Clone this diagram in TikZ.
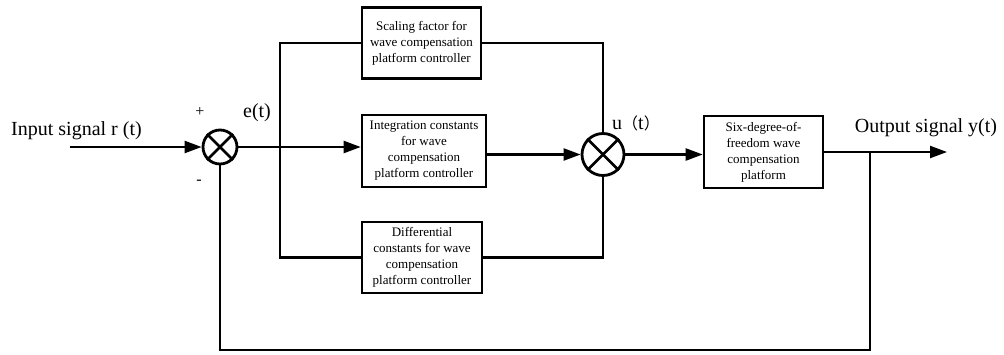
\documentclass[tikz,border=0pt]{standalone}
\usepackage{fontspec}
\setmainfont{Liberation Serif}
\newfontfamily\cjk{Noto Sans CJK SC}
\usetikzlibrary{arrows.meta,calc}
\begin{document}
\begin{tikzpicture}[x=1pt,y=-1pt,
  blk/.style={draw,line width=2.6pt,rectangle,inner sep=0pt,align=center,
    font=\fontsize{13}{16}\selectfont},
  sumnode/.style={draw,circle,line width=2.8pt,inner sep=0pt},
  wire/.style={line width=2.3pt},
  arr/.style={wire,-{Triangle[length=17pt,width=12pt]}},
  lbl/.style={font=\fontsize{20}{24}\selectfont,inner sep=0pt},
  sml/.style={font=\fontsize{16}{18}\selectfont,inner sep=0pt}]
\useasboundingbox (0,0) rectangle (1004,354);
% nodes
\coordinate (in) at (70,147);
\node[sumnode,minimum size=34pt] (s1) at (220,147) {};
\coordinate (b) at (280,147);
\node[blk,minimum width=119pt,minimum height=71pt] (top) at (421.5,43) {Scaling factor for\\wave compensation\\platform controller};
\node[blk,minimum width=124pt,minimum height=72pt] (mid) at (424,151) {Integration constants\\for wave\\compensation\\platform controller};
\node[blk,minimum width=120pt,minimum height=71pt] (bot) at (422,257.5) {Differential\\constants for wave\\compensation\\platform controller};
\node[sumnode,minimum size=42pt] (s2) at (603,154.5) {};
\node[blk,minimum width=119pt,minimum height=72pt] (plant) at (763.5,152) {Six-degree-of-\\freedom wave\\compensation\\platform};
\coordinate (out) at (947,152);
\coordinate (tap) at (870,152);
\coordinate (fb) at (870,350);
% crosses
\foreach \s in {s1,s2}{
  \draw[line width=2.6pt] (\s.45) -- (\s.225);
  \draw[line width=2.6pt] (\s.135) -- (\s.315);
}
% connectors
\draw[arr] (in) -- (s1.west);
\draw[wire] (s1.east) -- (b);
\draw[arr] (b) -- (mid.west |- b);
\draw[wire] (b) |- (top.west);
\draw[wire] (b) |- (bot.west);
\draw[wire] (top.east) -| (s2.north);
\draw[wire] (bot.east) -| (s2.south);
\draw[arr] (mid.east |- s2) -- (s2.west);
\draw[arr] (s2.east) -- (plant.west |- s2);
\draw[arr] (plant.east) -- (out);
\draw[wire] (tap) -- (fb) -| (s1.south);
% labels
\node[lbl] at (76.5,131) {Input signal r (t)};
\node[lbl] at (926,128) {Output signal y(t)};
\node[sml] at (200,112) {+};
\node[sml] at (199,182) {-};
\node[lbl] at (257,113) {e(t)};
\node[lbl,anchor=west] at (612,123) {u{\cjk\fontsize{16}{18}\selectfont （}t{\cjk\fontsize{16}{18}\selectfont ）}};
\end{tikzpicture}
\end{document}
